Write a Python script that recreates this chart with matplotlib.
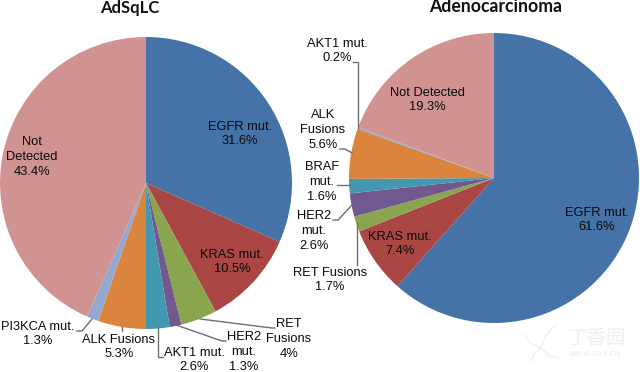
"""Two mutation pie charts side by side: AdSqLC and adenocarcinoma."""

import matplotlib
matplotlib.use("Agg")
import matplotlib.pyplot as plt

W, H = 640, 372

left_labels = ["EGFR mut.", "KRAS mut.", "RET Fusions", "HER2 mut.", "AKT1 mut.",
               "ALK Fusions", "PI3KCA mut.", "Not Detected"]
left_values = [31.6, 10.5, 4.0, 1.3, 2.6, 5.3, 1.3, 43.4]

right_labels = ["EGFR mut.", "KRAS mut.", "RET Fusions", "HER2 mut.", "BRAF mut.",
                "ALK Fusions", "AKT1 mut.", "Not Detected"]
right_values = [61.6, 7.4, 1.7, 2.6, 1.6, 5.6, 0.2, 19.3]

slice_colors = ["#4572A7", "#AA4643", "#89A54E", "#71588F", "#4198AF",
                "#DB843D", "#93A9CF", "#D19392"]

plt.rcParams["font.family"] = ["Liberation Sans", "DejaVu Sans"]

fig = plt.figure(figsize=(W / 100, H / 100), dpi=100)
ax = fig.add_axes([0, 0, 1, 1])


def py(y):
    # picture rows run downwards, the axes run upwards
    return H - y


ax.pie(left_values, colors=slice_colors, startangle=90, counterclock=False,
       center=(146, py(183)), radius=146, frame=True,
       wedgeprops={"linewidth": 0})
ax.pie(right_values, colors=slice_colors, startangle=90, counterclock=False,
       center=(494, py(178)), radius=145, frame=True,
       wedgeprops={"linewidth": 0})
ax.set_xlim(0, W)
ax.set_ylim(0, H)
ax.set_aspect("equal")
ax.axis("off")

# leader lines
leaders = [
    [(77, 331), (82, 331), (92, 319)],
    [(122, 327), (122, 331)],
    [(158, 327), (158, 357), (163, 357)],
    [(176, 325), (222, 341), (226, 341)],
    [(200, 319), (272, 328), (275, 328)],
    [(353, 62), (358, 62), (358, 128)],
    [(340, 149), (345, 149), (352, 153)],
    [(337, 185), (350, 185)],
    [(333, 220), (338, 220), (352, 205)],
    [(357, 223), (357, 265)],
]
for pts in leaders:
    ax.plot([p[0] for p in pts], [py(p[1]) for p in pts], color="#6E6E6E", lw=1.0,
            solid_joinstyle="miter")

FS = 9.3
texts = [
    (240, 134, "EGFR mut.\n31.6%"),
    (232, 262, "KRAS mut.\n10.5%"),
    (32, 157, "Not\nDetected\n43.4%"),
    (38, 334, "PI3KCA mut.\n1.3%"),
    (119, 347, "ALK Fusions\n5.3%"),
    (194, 360, "AKT1 mut.\n2.6%"),
    (244, 352, "HER2\nmut.\n1.3%"),
    (289, 339, "RET\nFusions\n4%"),
    (337, 51, "AKT1 mut.\n0.2%"),
    (323, 130, "ALK\nFusions\n5.6%"),
    (322, 182, "BRAF\nmut.\n1.6%"),
    (314, 231, "HER2\nmut.\n2.6%"),
    (330, 280, "RET Fusions\n1.7%"),
    (427, 100, "Not Detected\n19.3%"),
    (400, 244, "KRAS mut.\n7.4%"),
    (597, 220, "EGFR mut.\n61.6%"),
]
for x, y, s in texts:
    ax.text(x, py(y), s, ha="center", va="center", ma="center", fontsize=FS,
            color="#0A0A0A", linespacing=1.3)

ax.text(130, py(8), "AdSqLC", ha="center", va="center", fontsize=12,
        fontweight="bold", family="Lato", color="#111111")
ax.text(495.5, py(7), "Adenocarcinoma", ha="center", va="center", fontsize=12.7,
        fontweight="bold", family="Lato", color="#111111")

# faint watermark, bottom right
wings = [
    [(525, 335), (530, 343), (541, 348)],
    [(541, 348), (546, 335), (556, 325)],
    [(541, 348), (550, 356), (558, 358)],
    [(541, 348), (534, 354), (531, 361)],
]
for pts in wings:
    ax.plot([p[0] for p in pts], [py(p[1]) for p in pts], color="#EFEFEF", lw=1.0)
ax.text(597, py(339), "丁香园", ha="center", va="center", fontsize=14,
        family="Noto Sans CJK SC", color="#F0F0F0")
ax.text(596, py(355), "WWW.DXY.CN", ha="center", va="center", fontsize=5.5,
        color="#EAEAEA")

fig.savefig("out.png", dpi=100)
